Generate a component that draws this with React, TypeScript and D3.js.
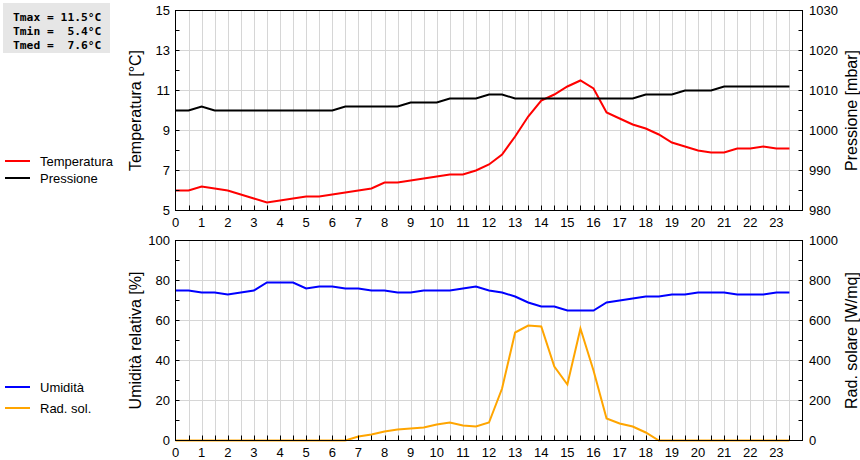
import { useRef, useEffect } from "react";
import * as d3 from "d3";

// half-hourly samples
const TIMES = [
  0, 0.5, 1, 1.5, 2, 2.5, 3, 3.5, 4, 4.5, 5, 5.5, 6, 6.5, 7, 7.5, 8, 8.5, 9, 9.5, 10, 10.5, 11, 11.5,
  12, 12.5, 13, 13.5, 14, 14.5, 15, 15.5, 16, 16.5, 17, 17.5, 18, 18.5, 19, 19.5, 20, 20.5, 21, 21.5,
  22, 22.5, 23, 23.5,
];

const TEMPERATURE = [
  6.0, 6.0, 6.2, 6.1, 6.0, 5.8, 5.6, 5.4, 5.5, 5.6, 5.7, 5.7, 5.8, 5.9, 6.0, 6.1, 6.4, 6.4, 6.5, 6.6,
  6.7, 6.8, 6.8, 7.0, 7.3, 7.8, 8.7, 9.7, 10.5, 10.8, 11.2, 11.5, 11.1, 9.9, 9.6, 9.3, 9.1, 8.8, 8.4,
  8.2, 8.0, 7.9, 7.9, 8.1, 8.1, 8.2, 8.1, 8.1,
];

const PRESSURE = [
  1005, 1005, 1006, 1005, 1005, 1005, 1005, 1005, 1005, 1005, 1005, 1005, 1005, 1006, 1006, 1006,
  1006, 1006, 1007, 1007, 1007, 1008, 1008, 1008, 1009, 1009, 1008, 1008, 1008, 1008, 1008, 1008,
  1008, 1008, 1008, 1008, 1009, 1009, 1009, 1010, 1010, 1010, 1011, 1011, 1011, 1011, 1011, 1011,
];

const HUMIDITY = [
  75, 75, 74, 74, 73, 74, 75, 79, 79, 79, 76, 77, 77, 76, 76, 75, 75, 74, 74, 75, 75, 75, 76, 77,
  75, 74, 72, 69, 67, 67, 65, 65, 65, 69, 70, 71, 72, 72, 73, 73, 74, 74, 74, 73, 73, 73, 74, 74,
];

const RADIATION = [
  0, 0, 0, 0, 0, 0, 0, 0, 0, 0, 0, 0, 0, 0, 20, 30, 45, 55, 60, 65, 80, 90, 75, 70,
  90, 260, 540, 575, 570, 370, 280, 560, 350, 110, 85, 70, 40, 0, 0, 0, 0, 0, 0, 0, 0, 0, 0, 0,
];

const HOUR_LABELS = d3.range(0, 24);
const TEMP_TICKS = [5, 7, 9, 11, 13, 15];
const PRESS_TICKS = [980, 990, 1000, 1010, 1020, 1030];
const HUM_TICKS = [0, 20, 40, 60, 80, 100];
const RAD_TICKS = [0, 200, 400, 600, 800, 1000];

const STATS = ["Tmax = 11.5°C", "Tmin =  5.4°C", "Tmed =  7.6°C"];

const W = 860;
const H = 460;
const X0 = 175.5;
const X1 = 802.5;
const FONT = "'Liberation Sans', Arial, sans-serif";
const GRID = "#d6d6d6";

interface Series {
  name: string;
  values: number[];
  color: string;
  axis: "left" | "right";
}

interface Panel {
  top: number;
  bottom: number;
  leftDomain: [number, number];
  rightDomain: [number, number];
  leftTicks: number[];
  leftMinor: number;
  rightTicks: number[];
  rightMinor: number;
  leftTitle: string;
  rightTitle: string;
  series: Series[];
  legendY: number[];
}

export default function App() {
  const svgRef = useRef<SVGSVGElement>(null);

  useEffect(() => {
    if (!svgRef.current) return;
    const svg = d3.select(svgRef.current);
    svg.selectAll("*").remove();

    const x = d3.scaleLinear().domain([0, 24]).range([X0, X1]);

    const panels: Panel[] = [
      {
        top: 10.5,
        bottom: 210.5,
        leftDomain: [5, 15],
        rightDomain: [980, 1030],
        leftTicks: TEMP_TICKS,
        leftMinor: 1,
        rightTicks: PRESS_TICKS,
        rightMinor: 5,
        leftTitle: "Temperatura [°C]",
        rightTitle: "Pressione [mbar]",
        series: [
          { name: "Temperatura", values: TEMPERATURE, color: "#ff0000", axis: "left" },
          { name: "Pressione", values: PRESSURE, color: "#000000", axis: "right" },
        ],
        legendY: [161, 178],
      },
      {
        top: 240.5,
        bottom: 440.5,
        leftDomain: [0, 100],
        rightDomain: [0, 1000],
        leftTicks: HUM_TICKS,
        leftMinor: 10,
        rightTicks: RAD_TICKS,
        rightMinor: 100,
        leftTitle: "Umidità relativa [%]",
        rightTitle: "Rad. solare [W/mq]",
        series: [
          { name: "Umidità", values: HUMIDITY, color: "#0000ff", axis: "left" },
          { name: "Rad. sol.", values: RADIATION, color: "#ffa500", axis: "right" },
        ],
        legendY: [387, 408],
      },
    ];

    // stats box
    svg
      .append("rect")
      .attr("x", 3)
      .attr("y", 3)
      .attr("width", 107)
      .attr("height", 50)
      .attr("fill", "#e6e6e6");
    svg
      .append("g")
      .selectAll("text")
      .data(STATS)
      .join("text")
      .attr("x", 13)
      .attr("y", (_, i) => 21 + i * 14)
      .attr("font-family", "'DejaVu Sans Mono', monospace")
      .attr("font-weight", 700)
      .attr("font-size", 11.3)
      .attr("xml:space", "preserve")
      .style("white-space", "pre")
      .text((d) => d);

    panels.forEach((p) => {
      const yl = d3.scaleLinear().domain(p.leftDomain).range([p.bottom, p.top]);
      const yr = d3.scaleLinear().domain(p.rightDomain).range([p.bottom, p.top]);
      const g = svg.append("g");

      // vertical grid every half hour
      g.append("g")
        .selectAll("line")
        .data(d3.range(1, 48).map((i) => i / 2))
        .join("line")
        .attr("x1", (d) => Math.round(x(d)) + 0.5)
        .attr("x2", (d) => Math.round(x(d)) + 0.5)
        .attr("y1", p.top)
        .attr("y2", p.bottom)
        .attr("stroke", GRID);

      // horizontal grid at labelled ticks
      g.append("g")
        .selectAll("line")
        .data(p.leftTicks.slice(1, -1))
        .join("line")
        .attr("x1", X0)
        .attr("x2", X1)
        .attr("y1", (d) => Math.round(yl(d) - 0.5) + 0.5)
        .attr("y2", (d) => Math.round(yl(d) - 0.5) + 0.5)
        .attr("stroke", GRID);

      // lines
      p.series.forEach((s) => {
        const y = s.axis === "left" ? yl : yr;
        const line = d3
          .line<number>()
          .x((_, i) => x(TIMES[i]))
          .y((d) => y(d));
        g.append("path")
          .datum(s.values)
          .attr("d", line)
          .attr("fill", "none")
          .attr("stroke", s.color)
          .attr("stroke-width", 2);
      });

      // frame
      g.append("rect")
        .attr("x", X0)
        .attr("y", p.top)
        .attr("width", X1 - X0)
        .attr("height", p.bottom - p.top)
        .attr("fill", "none")
        .attr("stroke", "#000");

      // inward ticks
      const [l0, l1] = p.leftDomain;
      g.append("g")
        .selectAll("line")
        .data(d3.range(l0, l1 + p.leftMinor / 2, p.leftMinor))
        .join("line")
        .attr("x1", X0)
        .attr("x2", X0 + 4)
        .attr("y1", (d) => Math.round(yl(d) - 0.5) + 0.5)
        .attr("y2", (d) => Math.round(yl(d) - 0.5) + 0.5)
        .attr("stroke", "#000");
      const [r0, r1] = p.rightDomain;
      g.append("g")
        .selectAll("line")
        .data(d3.range(r0, r1 + p.rightMinor / 2, p.rightMinor))
        .join("line")
        .attr("x1", X1 - 4)
        .attr("x2", X1)
        .attr("y1", (d) => Math.round(yr(d) - 0.5) + 0.5)
        .attr("y2", (d) => Math.round(yr(d) - 0.5) + 0.5)
        .attr("stroke", "#000");
      g.append("g")
        .selectAll("line")
        .data(d3.range(1, 48).map((i) => i / 2))
        .join("line")
        .attr("x1", (d) => Math.round(x(d)) + 0.5)
        .attr("x2", (d) => Math.round(x(d)) + 0.5)
        .attr("y1", p.bottom - 5)
        .attr("y2", p.bottom)
        .attr("stroke", "#000");

      // tick labels
      g.append("g")
        .selectAll("text")
        .data(p.leftTicks)
        .join("text")
        .attr("x", 170)
        .attr("y", (d) => yl(d))
        .attr("dy", "0.35em")
        .attr("text-anchor", "end")
        .attr("font-family", FONT)
        .attr("font-size", 13)
        .text((d) => d);
      g.append("g")
        .selectAll("text")
        .data(p.rightTicks)
        .join("text")
        .attr("x", 809)
        .attr("y", (d) => yr(d))
        .attr("dy", "0.35em")
        .attr("font-family", FONT)
        .attr("font-size", 13)
        .text((d) => d);
      g.append("g")
        .selectAll("text")
        .data(HOUR_LABELS)
        .join("text")
        .attr("x", (d) => x(d))
        .attr("y", p.bottom + 12)
        .attr("dy", "0.35em")
        .attr("text-anchor", "middle")
        .attr("font-family", FONT)
        .attr("font-size", 13)
        .text((d) => d);

      // axis titles
      const cy = (p.top + p.bottom) / 2;
      g.append("text")
        .attr("transform", `translate(141,${cy}) rotate(-90)`)
        .attr("text-anchor", "middle")
        .attr("font-family", FONT)
        .attr("font-size", 16)
        .text(p.leftTitle);
      g.append("text")
        .attr("transform", `translate(857,${cy}) rotate(-90)`)
        .attr("text-anchor", "middle")
        .attr("font-family", FONT)
        .attr("font-size", 16)
        .text(p.rightTitle);

      // legend
      p.series.forEach((s, i) => {
        const ly = p.legendY[i];
        g.append("line")
          .attr("x1", 5)
          .attr("x2", 30)
          .attr("y1", ly)
          .attr("y2", ly)
          .attr("stroke", s.color)
          .attr("stroke-width", 2);
        g.append("text")
          .attr("x", 40)
          .attr("y", ly)
          .attr("dy", "0.35em")
          .attr("font-family", FONT)
          .attr("font-size", 13)
          .text(s.name);
      });
    });
  }, []);

  return (
    <svg
      ref={svgRef}
      width={W}
      height={H}
      style={{ position: "absolute", left: 0, top: 0, background: "#fff" }}
    />
  );
}
